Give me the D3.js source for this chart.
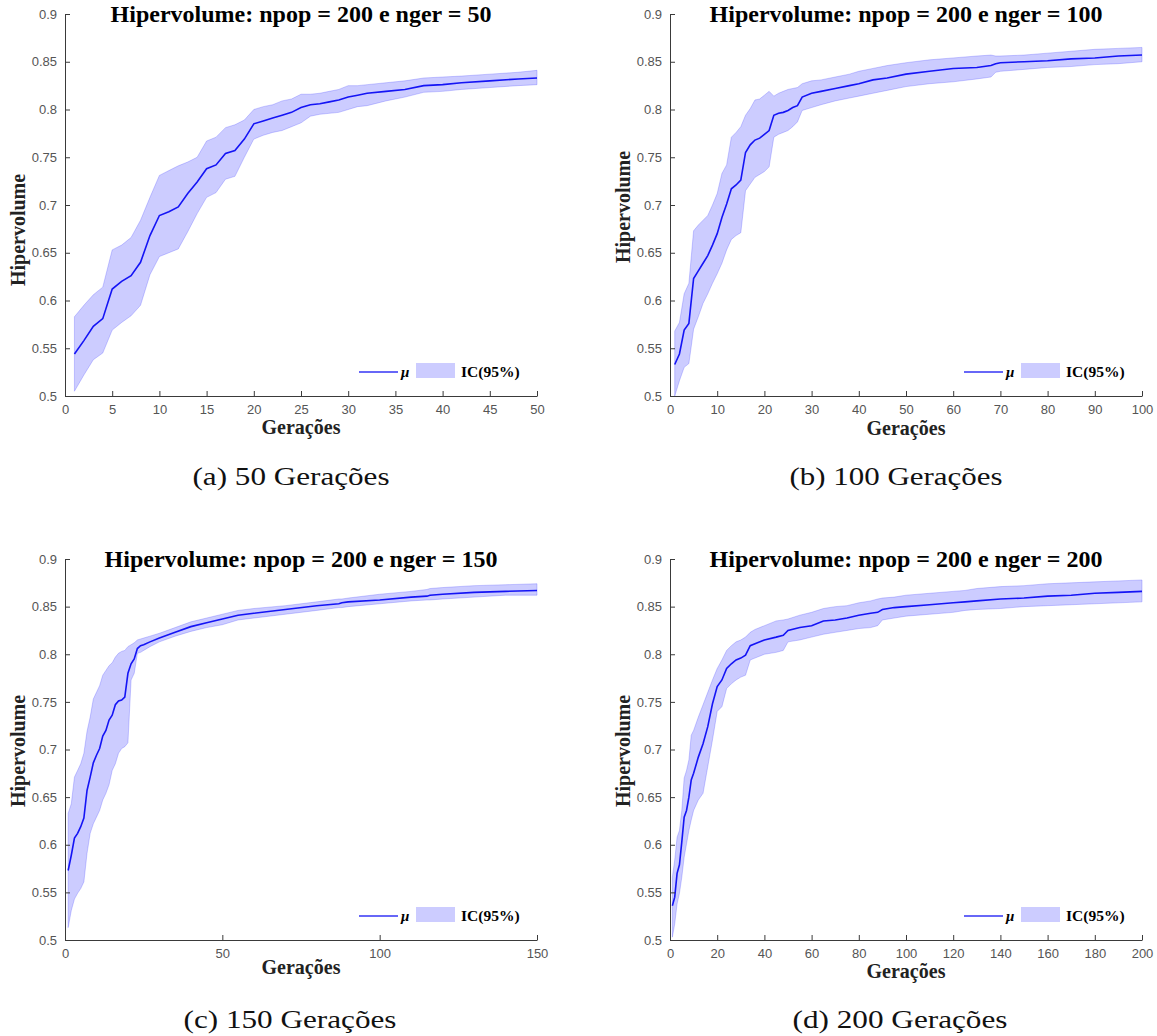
<!DOCTYPE html>
<html>
<head>
<meta charset="utf-8">
<script src="https://cdn.jsdelivr.net/npm/d3@7"></script>
<style>
  body { margin: 0; background: #fff; }
  svg { display: block; }
</style>
</head>
<body>
<div id="viz-container"></div>
<script>
// values (generation, mean, upper / lower bound of the 95% CI)
const genA  = [1,2,3,4,5,6,7,8,9,10,11,12,13,14,15,16,17,18,19,20,21,22,23,24,25,26,27,28,29,30,31,32,34,36,38,40,42,45,48,50];
const meanA = [.544,.558,.573,.581,.612,.620,.626,.640,.668,.689,.693,.698,.712,.724,.738,.742,.754,.757,.769,.785,.788,.791,.794,.797,.802,.805,.806,.808,.810,.813,.815,.817,.819,.821,.825,.826,.828,.830,.832,.833];
const upA   = [.583,.595,.606,.614,.653,.658,.666,.684,.708,.731,.736,.741,.745,.750,.767,.771,.781,.784,.789,.800,.803,.805,.809,.811,.816,.816,.817,.819,.821,.825,.825,.826,.828,.830,.833,.834,.835,.837,.839,.841];
const lowA  = [.505,.522,.538,.545,.569,.577,.584,.595,.627,.646,.650,.654,.672,.691,.708,.713,.727,.730,.750,.769,.773,.776,.778,.782,.786,.793,.795,.796,.797,.800,.803,.804,.809,.813,.818,.819,.821,.823,.825,.826];

const genB  = [1,2,3,4,5,6,7,8,9,10,11,12,13,14,15,16,17,18,19,20,21,22,23,24,25,26,27,28,30,32,35,38,40,43,46,50,55,60,65,68,69,70,75,80,85,90,95,100];
const meanB = [.533,.544,.569,.576,.623,.631,.639,.647,.658,.670,.687,.701,.717,.721,.726,.755,.763,.768,.770,.774,.778,.794,.796,.797,.799,.802,.804,.813,.817,.819,.822,.825,.827,.831,.833,.837,.840,.843,.844,.846,.848,.849,.850,.851,.853,.854,.856,.857];
const upB   = [.568,.577,.607,.618,.673,.679,.684,.689,.700,.712,.733,.742,.771,.776,.782,.794,.801,.810,.811,.815,.819,.814,.817,.819,.821,.822,.823,.827,.830,.831,.834,.837,.840,.843,.846,.849,.852,.854,.856,.857,.856,.856,.857,.859,.861,.863,.864,.865];
const lowB  = [.500,.516,.530,.534,.570,.583,.597,.607,.618,.628,.639,.653,.664,.668,.671,.715,.722,.729,.732,.735,.740,.771,.774,.776,.778,.782,.787,.799,.802,.805,.809,.812,.814,.817,.820,.824,.827,.829,.832,.834,.839,.840,.842,.844,.845,.847,.848,.850];

const genC  = [1,2,3,4,5,6,7,8,9,10,11,12,13,14,15,16,17,18,19,20,21,22,23,24,25,27,30,35,40,45,50,55,60,70,80,87,88,90,100,110,115,116,120,130,140,150];
const meanC = [.573,.589,.607,.612,.619,.628,.657,.671,.686,.694,.701,.714,.720,.731,.736,.747,.751,.752,.755,.780,.790,.795,.806,.809,.810,.813,.817,.823,.829,.833,.837,.841,.843,.847,.851,.853,.854,.855,.857,.860,.861,.862,.863,.865,.866,.867];
const upC   = [.633,.643,.671,.678,.685,.696,.719,.734,.753,.760,.767,.778,.783,.788,.791,.797,.801,.803,.804,.808,.810,.812,.815,.816,.817,.819,.822,.828,.834,.838,.842,.846,.848,.851,.855,.858,.858,.859,.863,.866,.868,.869,.870,.872,.873,.874];
const lowC  = [.513,.531,.543,.549,.554,.561,.591,.612,.622,.629,.636,.647,.654,.663,.678,.685,.696,.701,.703,.707,.773,.780,.801,.802,.804,.808,.813,.819,.824,.828,.831,.836,.838,.842,.846,.849,.849,.850,.853,.856,.857,.857,.858,.860,.862,.862];

const genD  = [1,2,3,4,5,6,7,8,9,10,12,14,16,18,20,22,24,26,28,30,32,34,36,40,45,48,50,55,60,65,70,75,80,85,88,90,95,100,110,120,125,130,140,150,160,170,180,190,200];
const meanD = [.536,.545,.570,.579,.603,.629,.636,.650,.668,.675,.692,.706,.724,.748,.766,.773,.785,.790,.794,.796,.799,.809,.811,.815,.818,.820,.825,.828,.830,.835,.836,.838,.841,.843,.844,.847,.849,.850,.852,.854,.855,.856,.858,.859,.861,.862,.864,.865,.866];
const upD   = [.566,.584,.608,.615,.636,.670,.678,.689,.715,.720,.734,.747,.760,.773,.785,.794,.804,.809,.813,.815,.818,.823,.826,.830,.835,.836,.837,.841,.844,.848,.850,.851,.854,.856,.858,.859,.860,.862,.864,.866,.867,.869,.871,.872,.874,.875,.876,.877,.878];
const lowD  = [.503,.517,.538,.549,.566,.587,.601,.615,.626,.636,.647,.654,.682,.710,.740,.745,.764,.769,.773,.776,.778,.794,.796,.800,.802,.804,.813,.815,.818,.821,.823,.825,.827,.828,.830,.836,.838,.840,.842,.844,.846,.847,.848,.850,.851,.852,.853,.854,.855];

const yTicks  = [0.5, 0.55, 0.6, 0.65, 0.7, 0.75, 0.8, 0.85, 0.9];
const xTicksA = [0,5,10,15,20,25,30,35,40,45,50];
const xTicksB = [0,10,20,30,40,50,60,70,80,90,100];
const xTicksC = [0,50,100,150];
const xTicksD = [0,20,40,60,80,100,120,140,160,180,200];

const titles   = ["Hipervolume: npop = 200 e nger = 50", "Hipervolume: npop = 200 e nger = 100",
                  "Hipervolume: npop = 200 e nger = 150", "Hipervolume: npop = 200 e nger = 200"];
const captions = ["(a) 50 Gerações", "(b) 100 Gerações", "(c) 150 Gerações", "(d) 200 Gerações"];

// layout of each sub-figure
const layout = [
  {left: 65,  top: 14,  right: 537,  bottom: 396, ylabY: 230, xlabDy: 38, capX: 291, capY: 485,  capW: 197},
  {left: 670, top: 14,  right: 1142, bottom: 396, ylabY: 207, xlabDy: 39, capX: 896, capY: 485,  capW: 213},
  {left: 65,  top: 559, right: 537,  bottom: 940, ylabY: 751, xlabDy: 34, capX: 290, capY: 1028, capW: 213},
  {left: 670, top: 559, right: 1142, bottom: 940, ylabY: 751, xlabDy: 38, capX: 900, capY: 1028, capW: 215}
];

const series = [
  {gens: genA, mean: meanA, up: upA, low: lowA, maxGen: 50,  xTicks: xTicksA},
  {gens: genB, mean: meanB, up: upB, low: lowB, maxGen: 100, xTicks: xTicksB},
  {gens: genC, mean: meanC, up: upC, low: lowC, maxGen: 150, xTicks: xTicksC},
  {gens: genD, mean: meanD, up: upD, low: lowD, maxGen: 200, xTicks: xTicksD}
];

const serif = "'Liberation Serif', 'Times New Roman', serif";
const sans = "'Liberation Sans', Arial, sans-serif";

let viz = d3.select("#viz-container")
  .append("svg")
    .attr("width", 1157)
    .attr("height", 1036);

function drawPanel(s, i){
  let L = layout[i];
  let g = viz.append("g");

  let x = d3.scaleLinear().domain([0, s.maxGen]).range([L.left, L.right]);
  let y = d3.scaleLinear().domain([0.5, 0.9]).range([L.bottom, L.top]);

  let rows = s.gens.map((gen, k) => ({gen: gen, mean: s.mean[k], up: s.up[k], low: s.low[k]}));

  let band = d3.area()
    .x(d => x(d.gen))
    .y0(d => y(d.low))
    .y1(d => y(d.up));
  let line = d3.line()
    .x(d => x(d.gen))
    .y(d => y(d.mean));

  g.append("path")
    .datum(rows)
    .attr("d", band)
    .attr("fill", "#ccccff")
    .attr("stroke", "rgba(60,60,255,0.25)")
    .attr("stroke-width", 1);

  g.append("path")
    .datum(rows)
    .attr("d", line)
    .attr("fill", "none")
    .attr("stroke", "#1414f5")
    .attr("stroke-width", 1.6);

  // axes (ticks pointing inward, MATLAB style)
  let xAxis = g.append("g")
    .attr("transform", "translate(0," + L.bottom + ")")
    .call(d3.axisBottom(x).tickValues(s.xTicks).tickFormat(d3.format("d"))
      .tickSizeInner(-5).tickSizeOuter(0).tickPadding(9));
  let yAxis = g.append("g")
    .attr("transform", "translate(" + L.left + ",0)")
    .call(d3.axisLeft(y).tickValues(yTicks).tickFormat(d => String(+d.toFixed(2)))
      .tickSizeInner(-5).tickSizeOuter(0).tickPadding(8));

  [xAxis, yAxis].forEach(a => {
    a.select(".domain").attr("stroke", "#3a3a3a");
    a.selectAll(".tick line").attr("stroke", "#3a3a3a");
    a.selectAll(".tick text")
      .attr("fill", "#555")
      .style("font-family", sans)
      .style("font-size", "13px");
  });

  let cx = (L.left + L.right) / 2;

  g.append("text")
    .attr("x", cx)
    .attr("y", L.top + 8)
    .attr("text-anchor", "middle")
    .style("font-family", serif)
    .style("font-weight", "bold")
    .style("font-size", "24px")
    .text(titles[i]);

  g.append("text")
    .attr("x", cx)
    .attr("y", L.bottom + L.xlabDy)
    .attr("text-anchor", "middle")
    .attr("fill", "#222")
    .style("font-family", serif)
    .style("font-weight", "bold")
    .style("font-size", "20px")
    .text("Gerações");

  g.append("text")
    .attr("transform", "translate(" + (L.left - 40) + "," + L.ylabY + ") rotate(-90)")
    .attr("text-anchor", "middle")
    .attr("fill", "#222")
    .style("font-family", serif)
    .style("font-weight", "bold")
    .style("font-size", "20px")
    .text("Hipervolume");

  // legend, bottom right inside the axes
  let lg = g.append("g").attr("transform", "translate(" + L.right + "," + L.bottom + ")");
  lg.append("line")
    .attr("x1", -178).attr("x2", -139)
    .attr("y1", -24).attr("y2", -24)
    .attr("stroke", "#3434f5")
    .attr("stroke-width", 1.6);
  lg.append("text")
    .attr("x", -136).attr("y", -19)
    .style("font-family", serif)
    .style("font-style", "italic")
    .style("font-weight", "bold")
    .style("font-size", "15px")
    .text("μ");
  lg.append("rect")
    .attr("x", -121).attr("y", -33)
    .attr("width", 39).attr("height", 15)
    .attr("fill", "#ccccff");
  lg.append("text")
    .attr("x", -76).attr("y", -19)
    .style("font-family", serif)
    .style("font-weight", "bold")
    .style("font-size", "15.5px")
    .text("IC(95%)");

  // sub-figure caption
  viz.append("text")
    .attr("x", L.capX)
    .attr("y", L.capY)
    .attr("text-anchor", "middle")
    .attr("textLength", L.capW)
    .attr("lengthAdjust", "spacingAndGlyphs")
    .attr("fill", "#111")
    .style("font-family", serif)
    .style("font-size", "25px")
    .text(captions[i]);
}

series.forEach(drawPanel);
</script>
</body>
</html>
